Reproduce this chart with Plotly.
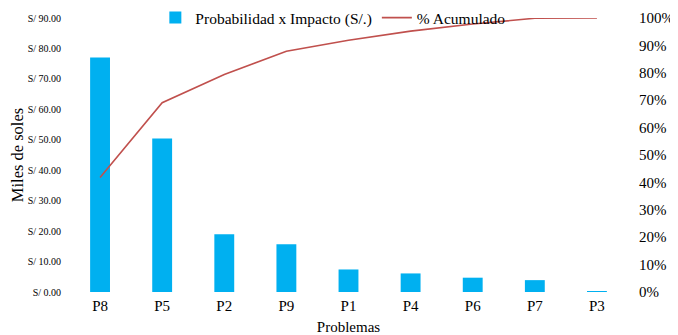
import plotly.graph_objects as go

categories = ["P8", "P5", "P2", "P9", "P1", "P4", "P6", "P7", "P3"]
impacto = [77.0, 50.4, 19.0, 15.7, 7.4, 6.1, 4.7, 3.9, 0.2]
acumulado = [41.8, 69.1, 79.4, 87.9, 91.9, 95.2, 97.8, 99.9, 100.0]
left_ticks = [0, 10, 20, 30, 40, 50, 60, 70, 80, 90]
left_labels = ["S/ 0.00", "S/ 10.00", "S/ 20.00", "S/ 30.00", "S/ 40.00",
               "S/ 50.00", "S/ 60.00", "S/ 70.00", "S/ 80.00", "S/ 90.00"]
right_ticks = [0, 10, 20, 30, 40, 50, 60, 70, 80, 90, 100]
right_labels = ["0%", "10%", "20%", "30%", "40%", "50%", "60%", "70%", "80%", "90%", "100%"]

FF = "Liberation Serif"

fig = go.Figure()
fig.add_trace(go.Bar(
    x=categories, y=impacto, name="Probabilidad x Impacto (S/.)",
    marker=dict(color="#00B0F0", line=dict(width=0)), yaxis="y",
))
fig.add_trace(go.Scatter(
    x=categories, y=acumulado, name="% Acumulado", mode="lines",
    line=dict(color="#C0504D", width=1.6), yaxis="y2",
))

# page body has an 8px margin: figure is shifted by 8px right/down
fig.update_layout(
    width=670, height=327,
    margin=dict(l=61, r=50, t=10, b=43, autoexpand=False),
    paper_bgcolor="white", plot_bgcolor="white",
    font=dict(family=FF, color="#000000", size=15),
    bargap=0.68,
    showlegend=True,
    legend=dict(orientation="h", x=0.472, xanchor="center", y=1.0, yanchor="middle",
                bgcolor="rgba(0,0,0,0)", font=dict(family=FF, size=15.5), itemwidth=30,
                traceorder="normal"),
    xaxis=dict(title=dict(text="Problemas", font=dict(family=FF, size=15), standoff=8),
               automargin=False, ticklabelstandoff=3,
               showgrid=False, showline=False, zeroline=False,
               tickfont=dict(family=FF, size=15), ticks=""),
    yaxis=dict(title=dict(text="Miles de soles", font=dict(family=FF, size=16.5), standoff=6),
               automargin=False, ticklabelstandoff=7,
               range=[0, 90], tickvals=left_ticks, ticktext=left_labels,
               showgrid=False, zeroline=False, showline=False,
               tickfont=dict(family=FF, size=10), ticks=""),
    yaxis2=dict(overlaying="y", side="right", range=[0, 100], tickvals=right_ticks,
                ticktext=right_labels, automargin=False, ticklabelstandoff=10,
                showgrid=False, zeroline=False, showline=False,
                tickfont=dict(family=FF, size=15), ticks=""),
)

fig.write_html("out.html")
